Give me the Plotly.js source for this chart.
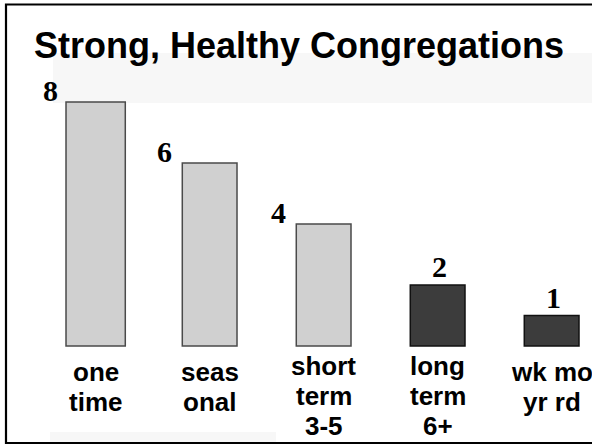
<!DOCTYPE html>
<html>
<head>
<meta charset="utf-8">
<script src="https://cdn.plot.ly/plotly-3.0.1.min.js"></script>
<style>
  html, body { margin: 0; padding: 0; background: #ffffff; }
  #chart { width: 592px; height: 445px; }
</style>
</head>
<body>
<div id="chart"></div>
<script>
// ---- data ----
const categories = ["one time", "seas onal", "short term 3-5", "long term 6+", "wk mo yr rd"];
const labelLines = [["one", "time"], ["seas", "onal"], ["short", "term", "3-5"], ["long", "term", "6+"], ["wk mo", "yr rd"]];
const values = [8, 6, 4, 2, 1];
const chartTitle = "Strong, Healthy Congregations";

// ---- styles ----
const barColors = ["#d0d0d0", "#d0d0d0", "#d0d0d0", "#3c3c3c", "#3c3c3c"];
const lineColors = ["#4a4a4a", "#4a4a4a", "#4a4a4a", "#111111", "#111111"];
const barWidths = [0.52, 0.48, 0.48, 0.48, 0.48];
const sansFont = "'Liberation Sans', Arial, sans-serif";
const serifFont = "'Liberation Serif', 'Times New Roman', serif";

const xIdx = categories.map((c, i) => i);

const trace = {
  type: "bar",
  x: xIdx,
  y: values,
  width: barWidths,
  marker: { color: barColors, line: { color: lineColors, width: 1.5 } },
  hoverinfo: "skip"
};

const annotations = [];
// value labels
values.forEach((v, i) => {
  const leftSide = barColors[i] === "#d0d0d0";
  annotations.push({
    x: i, y: v, xref: "x", yref: "y",
    text: "<b>" + v + "</b>",
    showarrow: false,
    font: { family: serifFont, size: 30, color: "#000000" },
    xanchor: "center",
    yanchor: leftSide ? "middle" : "bottom",
    xshift: leftSide ? -45 : 2,
    yshift: leftSide ? 11 : 0
  });
});
// category labels (one annotation per line for tight line spacing)
const lineGap = 30;
labelLines.forEach((lines, i) => {
  const firstBaseline = 375 + (3 - lines.length) * 6; // px from top
  lines.forEach((ln, j) => {
    const baseline = firstBaseline + lineGap * j;
    const center = baseline - 0.3465 * 26;
    annotations.push({
      x: i, y: 0, xref: "x", yref: "y",
      text: "<b>" + ln + "</b>",
      showarrow: false,
      font: { family: sansFont, size: 26, color: "#000000" },
      xanchor: "center", yanchor: "middle",
      yshift: -(center - 346)
    });
  });
});

const layout = {
  width: 592, height: 445,
  margin: { l: 0, r: 0, t: 0, b: 0, pad: 0 },
  paper_bgcolor: "#ffffff",
  plot_bgcolor: "rgba(0,0,0,0)",
  showlegend: false,
  title: {
    text: "<b>" + chartTitle + "</b>",
    font: { family: sansFont, size: 36, color: "#000000" },
    x: 34 / 592, xanchor: "left", xref: "container",
    y: 1 - 45.5 / 445, yanchor: "middle", yref: "container"
  },
  xaxis: {
    range: [-0.839, 4.354],
    visible: false, fixedrange: true
  },
  yaxis: {
    range: [-3.246, 11.344],
    visible: false, fixedrange: true
  },
  annotations: annotations,
  shapes: [
    { type: "rect", xref: "paper", yref: "paper", layer: "below",
      x0: 53 / 592, x1: 1, y0: 1 - 103 / 445, y1: 1 - 53 / 445,
      fillcolor: "#f7f7f7", line: { width: 0 } },
    { type: "rect", xref: "paper", yref: "paper", layer: "below",
      x0: 50 / 592, x1: 276 / 592, y0: 1 - 443 / 445, y1: 1 - 432 / 445,
      fillcolor: "#f7f7f7", line: { width: 0 } },
    { type: "rect", xref: "paper", yref: "paper", layer: "above",
      x0: 6 / 592, x1: 1.02, y0: 1 - 443 / 445, y1: 1 - 4.5 / 445,
      fillcolor: "rgba(0,0,0,0)", line: { color: "#000000", width: 2.2 } }
  ]
};

Plotly.newPlot("chart", [trace], layout, { staticPlot: true, displayModeBar: false });
</script>
</body>
</html>
